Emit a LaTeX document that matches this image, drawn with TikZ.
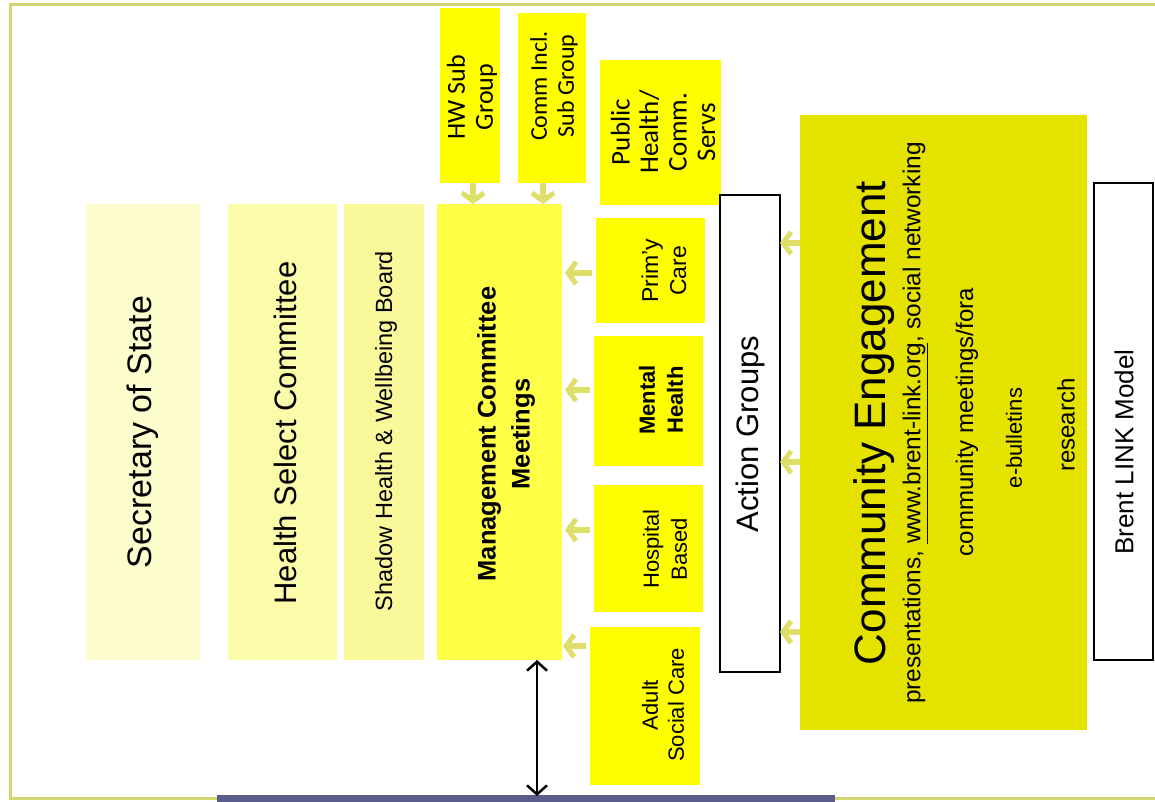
\documentclass[tikz,border=0pt]{standalone}
\usepackage{fontspec}
\setmainfont{Liberation Sans}
\newfontfamily\calib{Carlito}
\usetikzlibrary{arrows.meta}
\def\fs#1#2{\fontsize{#1}{#2}\selectfont}

\definecolor{framec}{RGB}{212,212,112}
\definecolor{barc}{RGB}{92,92,140}
\definecolor{paleA}{RGB}{253,253,205}
\definecolor{paleB}{RGB}{251,251,170}
\definecolor{paleC}{RGB}{249,249,155}
\definecolor{mgmtc}{RGB}{255,255,72}
\definecolor{subc}{RGB}{255,254,0}
\definecolor{engc}{RGB}{230,226,0}
\definecolor{feedc}{RGB}{222,222,105}

\tikzset{
  box/.style={anchor=north west, inner sep=0pt, outer sep=0pt},
  outlined/.style={box, draw=black, line width=2.5pt, fill=white},
  txt/.style={rotate=90, align=center, inner sep=0pt},
  feed/.style={draw=feedc, line width=6pt,
    -{Straight Barb[length=8pt,width=22pt,line width=5pt]}},
  both/.style={line width=2.5pt,
    {Straight Barb[length=9pt,width=20pt]}-{Straight Barb[length=9pt,width=20pt]}}
}

\begin{document}
\begin{tikzpicture}[x=1pt, y=-1pt]
	%%%%% FRAME %%%%%
	\useasboundingbox (0,0) rectangle (1155,802);
	\draw[framec, line width=3pt] (1155,5) -- (10,5) -- (10,798) -- (1155,798);
	\fill[barc] (217,795) rectangle (835,802);
	\coordinate (barmid) at (537,796);
	
	%%%%% LEFT COLUMNS %%%%%
	\node[box, fill=paleA, minimum width=114pt, minimum height=456pt] (sec) at (86,204) {};
	\node[box, fill=paleB, minimum width=109pt, minimum height=456pt] (hsc) at (228,204) {};
	\node[box, fill=paleC, minimum width=80pt, minimum height=456pt] (shb) at (344,204) {};
	\node[box, fill=mgmtc, minimum width=125pt, minimum height=456pt] (mgmt) at (437,204) {};
	
	\node[txt, font=\fs{34}{40}] (sec-t) at (143,432) {Secretary of State};
	\node[txt, font=\fs{31}{37}] (hsc-t) at (285,433) {Health Select Committee};
	\node[txt, font=\fs{23.5}{28}] (shb-t) at (386,431) {Shadow Health \& Wellbeing Board};
	\node[txt, font=\fs{25.5}{34}\bfseries] (mgmt-t) at (506,434) {Management Committee\\Meetings};
	
	%%%%% SUB GROUPS %%%%%
	\node[box, fill=subc, minimum width=60pt, minimum height=175pt] (hw) at (440,8) {};
	\node[box, fill=subc, minimum width=68pt, minimum height=170pt] (ci) at (518,13) {};
	\node[box, fill=subc, minimum width=121pt, minimum height=145pt] (ph) at (600,60) {};
	
	\node[txt, font=\calib\fs{26}{28}] (hw-t) at (472,97) {HW Sub\\Group};
	\node[txt, font=\calib\fs{24}{27}] (ci-t) at (554,86) {Comm Incl.\\Sub Group};
	\node[txt, font=\calib\fs{27}{28.5}] (ph-t) at (663,132) {Public\\Health/\\Comm.\\Servs};
	
	%%%%% SERVICE AREAS %%%%%
	\node[box, fill=subc, minimum width=109pt, minimum height=105pt] (prim) at (596,218) {};
	\node[box, fill=subc, minimum width=109pt, minimum height=130pt] (ment) at (594,336) {};
	\node[box, fill=subc, minimum width=109pt, minimum height=127pt] (hosp) at (594,485) {};
	\node[box, fill=subc, minimum width=110pt, minimum height=158pt] (adult) at (590,627) {};
	
	\node[txt, font=\fs{23}{28}] (prim-t) at (664,271) {Prim’y\\Care};
	\node[txt, font=\fs{22}{28}\bfseries] (ment-t) at (661,400) {Mental\\Health};
	\node[txt, font=\fs{22}{28}] (hosp-t) at (665,549) {Hospital\\Based};
	\node[txt, font=\fs{22}{26}] (adult-t) at (663,705) {Adult\\Social Care};
	
	%%%%% ACTION GROUPS / ENGAGEMENT %%%%%
	\node[outlined, minimum width=60pt, minimum height=477pt] (ag) at (720,195) {};
	\node[box, fill=engc, minimum width=287pt, minimum height=615pt] (ce) at (800,115) {};
	\node[outlined, minimum width=59pt, minimum height=477pt] (brent) at (1094,183) {};
	
	\node[txt, font=\fs{31}{37}] (ag-t) at (750,434) {Action Groups};
	\node[txt, font=\fs{44}{50}] (ce-t) at (874,423) {Community Engagement};
	\node[txt, font=\fs{24.4}{28}] (ce-a) at (915,423) {presentations, \underline{www.brent-link.org}, social networking};
	\node[txt, font=\fs{24}{28}] (ce-b) at (967,422) {community meetings/fora};
	\node[txt, font=\fs{22}{26}] (ce-c) at (1014,438) {e-bulletins};
	\node[txt, font=\fs{24}{28}] (ce-d) at (1066,425) {research};
	\node[txt, font=\fs{26}{30}] (brent-t) at (1124,452) {Brent LINK Model};
	
	%%%%% ARROWS %%%%%
	\draw[feed] (hw.south -| 473,0) -- (mgmt.north -| 473,0);
	\draw[feed] (ci.south -| 543,0) -- (mgmt.north -| 543,0);
	\draw[feed, shorten <=4pt, shorten >=3pt] (prim.west |- 0,273) -- (mgmt.east |- 0,273);
	\draw[feed, shorten <=4pt, shorten >=3pt] (ment.west |- 0,390) -- (mgmt.east |- 0,390);
	\draw[feed, shorten <=4pt, shorten >=3pt] (hosp.west |- 0,530) -- (mgmt.east |- 0,530);
	\draw[feed, shorten <=4pt, shorten >=1pt] (adult.west |- 0,646) -- (mgmt.east |- 0,646);
	\draw[feed] (ce.west |- 0,243) -- (ag.east |- 0,243);
	\draw[feed] (ce.west |- 0,462) -- (ag.east |- 0,462);
	\draw[feed] (ce.west |- 0,632) -- (ag.east |- 0,632);
	
	\draw[both] (mgmt.south -| barmid) -- (barmid);
\end{tikzpicture}
\end{document}
